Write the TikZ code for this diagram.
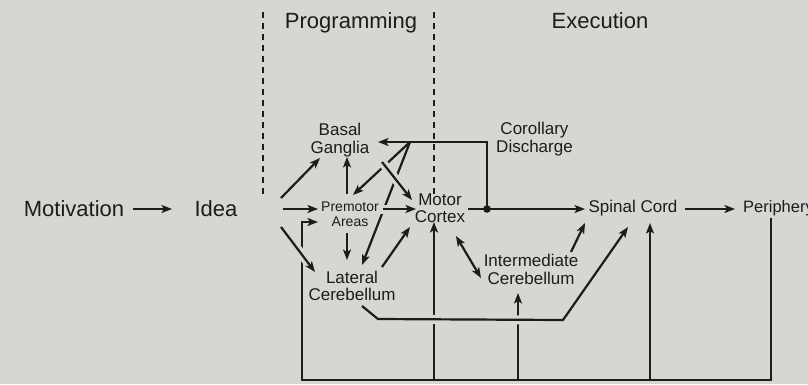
\documentclass[tikz,border=0pt]{standalone}
\usepackage{fontspec}
\setmainfont{Liberation Sans}
\usetikzlibrary{arrows.meta,calc}
\definecolor{bgc}{RGB}{214,215,210}
\definecolor{ink}{RGB}{28,28,28}
\begin{document}
\begin{tikzpicture}[x=1pt,y=-1pt,
  every node/.style={inner sep=0pt, text=ink},
  big/.style={font=\fontsize{22}{24}\selectfont},
  mid/.style={font=\fontsize{17}{17.3}\selectfont, align=center},
  sml/.style={font=\fontsize{14}{15}\selectfont, align=center},
  ln/.style={draw=ink, line width=2.2pt},
  arr/.style={ln, ->},
  >={Stealth[length=10.5pt,width=8pt,inset=2.5pt]},
  halo/.style={preaction={draw=bgc, line width=9pt, arrows=-, shorten >=6pt}},
  haloext/.style={preaction={draw=bgc, line width=9pt, arrows=-, shorten >=6pt, shorten <=-5pt}},
  dashline/.style={draw=ink, line width=1.5pt, dash pattern=on 6pt off 5pt}
]
\fill[bgc] (0,0) rectangle (808,384);
\useasboundingbox (0,0) rectangle (808,384);

% phase separators
\draw[dashline] (263,12) -- (263,197);
\draw[dashline] (434,12) -- (434,195);

% labels
\node[big, anchor=base] (prog) at (351,28) {Programming};
\node[big, anchor=base] (exec) at (600,28) {Execution};
\node[big, anchor=base] (mot) at (74,216) {Motivation};
\node[big, anchor=base] (idea) at (216,216) {Idea};
\node[mid] (bg) at (340,140) {Basal\\Ganglia};
\node[sml] (pm) at (350,214.5) {Premotor\\Areas};
\node[mid] (mc) at (440,208) {Motor\\Cortex};
\node[mid] (lc) at (352,286) {Lateral\\Cerebellum};
\node[mid] (ic) at (531,269.5) {Intermediate\\Cerebellum};
\node[mid] (cd) at (534.5,139) {Corollary\\Discharge};
\node[mid, anchor=base] (sc) at (633,212) {Spinal Cord};
\node[mid, anchor=base west, font=\fontsize{16.5}{17}\selectfont] (per) at (743,212) {Periphery};

% helper coordinates
\coordinate (f1) at (281,198);
\coordinate (f2) at (283,209);
\coordinate (f3) at (281,227);
\coordinate (jn) at (410,142);
\coordinate (dot) at (487,209);
\coordinate (b1) at (302,380);
\coordinate (l1) at (378,319);
\coordinate (l2) at (563,320);
\coordinate (pt) at ($(per.base west)+(28,6)$);
\coordinate (mct) at ($(mc)+(-6,14)$);
\coordinate (ict) at ($(ic)+(-13,23.5)$);
\coordinate (sct) at ($(sc.base)+(17,11)$);

% motivation -> idea
\draw[arr] ($(mot.base)+(59,-7)$) -- ($(idea.base)+(-44,-7)$);

% idea fan-out
\draw[arr] (f1) -- ($(bg)+(-20,18)$);
\draw[arr] (f2) -- ($(pm)+(-32,-5.5)$);

% premotor up / down
\draw[arr] ($(pm)+(-3,-20.5)$) -- ($(bg)+(7,17)$);
\draw[arr] ($(pm)+(-3,18.5)$) -- ($(lc)+(-5,-26)$);

% corollary discharge loop
\draw[arr] (dot) |- ($(bg)+(38,2)$);
\draw[arr] (jn) -- ($(pm)+(3,-19.5)$);
\draw[arr] (jn) -- ($(lc)+(10,-21)$);

% feedback loop from periphery
\draw[arr] (pt) |- (b1) |- ($(pm)+(-32,7.5)$);
\draw[arr] (mct |- b1) -- (mct);
\draw[arr] (ict |- b1) -- (ict);
\draw[arr] (sct |- b1) -- (sct);

% lines drawn over with gaps
\draw[arr, halo] ($(bg)+(42,22)$) -- ($(mc)+(-28,-8)$);
\draw[arr, haloext] ($(pm)+(33,-5.5)$) -- ($(mc)+(-24,1)$);
\draw[arr, halo] (f3) -- ($(lc)+(-37,-14)$);
\draw[arr, halo] ($(lc)+(10,20)$) -- (l1) -- (l2) -- ($(sc.base)+(-5,15)$);

% lateral cerebellum -> motor cortex
\draw[arr] ($(lc)+(30,-19)$) -- ($(mc)+(-30,19)$);

% execution
\draw[arr] ($(mc)+(28,1)$) -- ($(sc.base)+(-48,-3)$);
\fill[ink] (dot) circle (3.8);
\draw[ln, <->] ($(mc)+(16,28)$) -- ($(ic)+(-50,8.5)$);
\draw[arr] ($(ic)+(40,-17.5)$) -- ($(sc.base)+(-48,11)$);
\draw[arr] ($(sc.base)+(52,-3)$) -- ($(per.base west)+(-8,-3)$);
\end{tikzpicture}
\end{document}
